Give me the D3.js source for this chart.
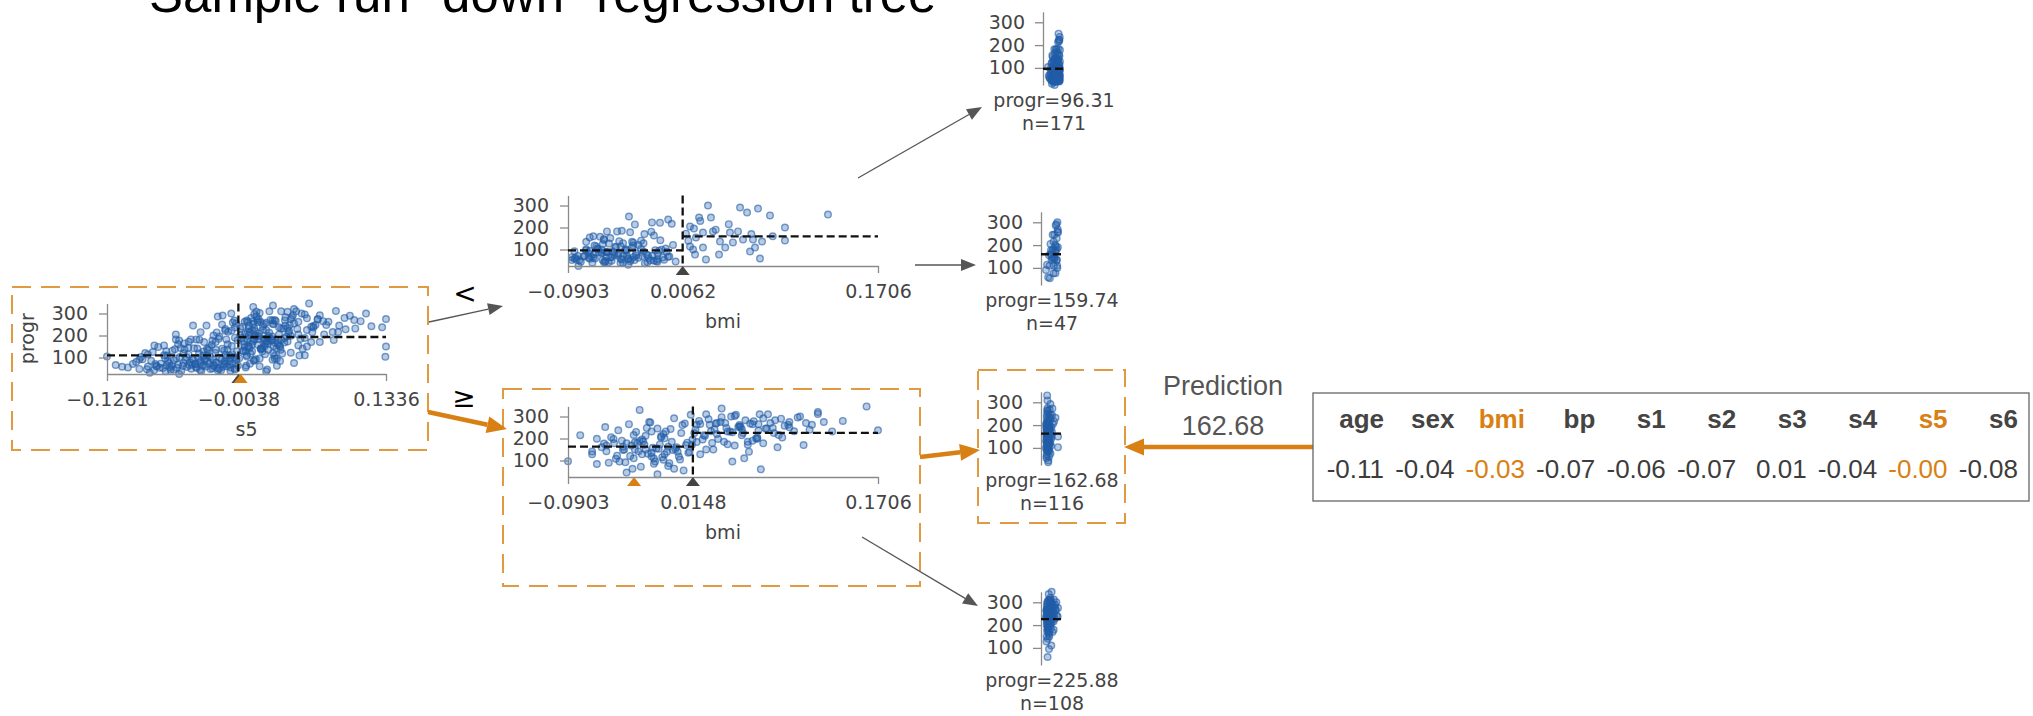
<!DOCTYPE html>
<html lang="en">
<head>
<meta charset="UTF-8"/>
<title>Sample run "down" regression tree</title>
<script src="https://d3js.org/d3.v7.min.js"></script>
<style>
	body { margin: 0; background-color: #FFFFFF; }
	#chart svg { display: block; }
</style>
</head>
<body>
<div id="chart"></div>
<script>
	// ---- data ----
	var features = ["age", "sex", "bmi", "bp", "s1", "s2", "s3", "s4", "s5", "s6"];
	var instanceValues = ["-0.11", "-0.04", "-0.03", "-0.07", "-0.06", "-0.07", "0.01", "-0.04", "-0.00", "-0.08"];
	var pathFeatures = ["bmi", "s5"];

	var s5Range = [-0.1261, 0.1336];
	var bmiRange = [-0.0903, 0.1706];
	var progrRange = [25, 346];
	var yTicks = [100, 200, 300];

	var s5Split = -0.0038;
	var bmiSplitLow = 0.0062;   // node reached when s5 < split
	var bmiSplitHigh = 0.0148;  // node reached when s5 >= split
	var rootMeans = [110.0, 193.2];
	var leafMeans = [96.31, 159.74, 162.68, 225.88];
	var leafCounts = [171, 47, 116, 108];
	var instanceS5 = -0.0017;
	var instanceBmi = -0.0347;
	var prediction = 162.68;

	// points: [s5, bmi, progr], one array per leaf
	var leafA = [
		[-0.1261,-0.0655,104],[-0.1066,-0.0450,55],[-0.1020,-0.0762,71],[-0.0960,-0.0590,48],
		[-0.0930,-0.0849,92],[-0.0905,-0.0310,120],[-0.0880,-0.0676,59],[-0.0850,-0.0514,85],
		[-0.0823,-0.0234,42],[-0.0800,-0.0730,63],[-0.0784,-0.0601,148],[-0.0760,-0.0407,72],
		[-0.0741,-0.0870,52],[-0.0720,-0.0169,97],[-0.0705,-0.0547,65],[-0.0683,-0.0515,75],
		[-0.0670,-0.0795,44],[-0.0652,-0.0353,131],[-0.0640,-0.0622,88],[-0.0629,-0.0472,138],
		[-0.0611,-0.0094,53],[-0.0598,-0.0708,68],[-0.0583,-0.0288,102],[-0.0570,-0.0461,39],
		[-0.0556,-0.0838,61],[-0.0541,-0.0180,164],[-0.0530,-0.0579,90],[-0.0515,-0.0396,57],
		[-0.0502,-0.0665,114],[-0.0490,-0.0245,78],[-0.0477,-0.0536,49],[-0.0465,-0.0752,96],
		[-0.0451,-0.0126,142],[-0.0440,-0.0439,70],[-0.0428,-0.0612,52],[-0.0412,-0.0407,97],
		[-0.0401,-0.0202,181],[-0.0390,-0.0730,84],[-0.0377,-0.0310,63],[-0.0364,-0.0558,127],
		[-0.0352,-0.0073,90],[-0.0340,-0.0849,59],[-0.0331,-0.0364,109],[-0.0320,-0.0364,135],
		[-0.0309,-0.0482,72],[-0.0298,-0.0159,48],[-0.0286,-0.0633,158],[-0.0275,-0.0267,91],
		[-0.0264,-0.0536,65],[-0.0253,-0.0019,121],[-0.0242,-0.0687,77],[-0.0231,-0.0342,52],
		[-0.0220,-0.0450,185],[-0.0210,-0.0116,99],[-0.0199,-0.0601,42],[-0.0188,-0.0288,140],
		[-0.0177,-0.0773,68],[-0.0166,-0.0148,81],[-0.0155,-0.0504,113],[-0.0144,-0.0224,60],
		[-0.0133,-0.0030,217],[-0.0122,-0.0644,87],[-0.0111,-0.0374,55],[-0.0100,-0.0547,152],
		[-0.0090,-0.0191,72],[-0.0080,-0.0418,101],[-0.0070,0.0003,45],[-0.0060,-0.0579,89],
		[-0.0050,-0.0267,128],[-0.0042,-0.0105,64],[-0.0862,-0.0396,31],[-0.0715,-0.0256,37],
		[-0.0589,-0.0815,25],[-0.0468,-0.0062,67],[-0.0395,-0.0590,43],[-0.0280,-0.0806,51],
		[-0.0180,-0.0461,58],[-0.0112,-0.0698,40],[-0.0550,-0.0353,118],[-0.0345,-0.0137,94],
		[-0.0190,-0.0390,250],[-0.0240,-0.0340,214],[-0.0100,-0.0196,223],[-0.0160,-0.0129,222],
		[-0.0070,-0.0060,236],[-0.0620,-0.0575,182],[-0.0480,-0.0490,182],[-0.0820,-0.0720,155],
		[-0.1180,-0.0580,66],[-0.1120,-0.0720,58],[-0.0990,-0.0480,80],[-0.0945,-0.0650,102],
		[-0.0890,-0.0380,47],[-0.0835,-0.0610,125],[-0.0812,-0.0280,70],[-0.0772,-0.0830,53],
		[-0.0730,-0.0500,110],[-0.0695,-0.0330,84],[-0.0660,-0.0690,62],[-0.0618,-0.0420,96],
		[-0.0575,-0.0600,143],[-0.0548,-0.0230,74],[-0.0520,-0.0750,101],[-0.0496,-0.0350,66],
		[-0.0458,-0.0580,88],[-0.0433,-0.0150,57],[-0.0405,-0.0680,118],[-0.0383,-0.0440,39],
		[-0.0357,-0.0260,170],[-0.0326,-0.0620,83],[-0.0302,-0.0080,104],[-0.0270,-0.0400,61],
		[-0.0247,-0.0750,135],[-0.0216,-0.0180,49],[-0.0193,-0.0530,92],[-0.0162,-0.0330,73],
		[-0.0138,-0.0690,160],[-0.0117,-0.0050,68],[-0.0095,-0.0460,115],[-0.0076,-0.0210,51],
		[-0.0055,-0.0720,94],[-0.0046,-0.0380,178],[-0.0640,-0.0150,44],[-0.0440,-0.0820,71],
		[-0.0230,-0.0560,42],[-0.0360,-0.0870,65],[-0.0150,-0.0620,99],[-0.0710,-0.0440,129]
	];
	var leafB = [
		[-0.0620,0.0124,205],[-0.0215,0.0157,195],[-0.0335,0.0200,245],[-0.0104,0.0275,300],
		[-0.0460,0.0300,245],[-0.0730,0.0174,155],[-0.0280,0.0233,177],[-0.0150,0.0317,182],
		[-0.0540,0.0376,136],[-0.0880,0.0124,114],[-0.0395,0.0166,77],[-0.0675,0.0258,55],
		[-0.0250,0.0368,77],[-0.0120,0.0420,109],[-0.0590,0.0460,177],[-0.0185,0.0545,291],
		[-0.0430,0.0528,182],[-0.0075,0.0604,268],[-0.0310,0.0570,145],[-0.0230,0.0696,286],
		[-0.0505,0.0654,145],[-0.0960,0.0629,91],[-0.0365,0.0671,109],[-0.0800,0.0713,59],
		[-0.0140,0.0730,136],[-0.0060,0.0797,255],[-0.0270,0.0923,200],[-0.0420,0.0923,141],
		[-0.0090,0.1285,259],[-0.0700,0.0233,109],[-0.0170,0.0485,132],
		[-0.0500,0.0090,172],[-0.0330,0.0110,140],[-0.0160,0.0210,230],[-0.0070,0.0340,190],
		[-0.0250,0.0640,170],[-0.0600,0.0820,160],[-0.0110,0.0150,100],[-0.0390,0.0450,215]
	];
	var leafC = [
		[-0.0030,-0.0903,97],[0.0050,-0.0800,215],[0.0120,-0.0660,199],[0.0200,-0.0590,252],
		[0.0350,-0.0660,84],[0.0015,-0.0620,160],[0.0280,-0.0560,90],[0.0080,-0.0515,178],
		[0.0450,-0.0490,122],[0.0160,-0.0470,95],[-0.0010,-0.0450,190],[0.0600,-0.0430,150],
		[0.0230,-0.0410,45],[0.0100,-0.0390,265],[0.0330,-0.0370,168],[0.0040,-0.0350,110],
		[0.0510,-0.0330,230],[0.0180,-0.0310,142],[0.0070,-0.0290,72],[0.0390,-0.0270,187],
		[0.0250,-0.0250,212],[0.0000,-0.0230,131],[0.0700,-0.0210,273],[0.0140,-0.0190,158],
		[0.0300,-0.0170,96],[0.0060,-0.0150,245],[0.0420,-0.0130,173],[0.0210,-0.0110,115],
		[-0.0020,-0.0090,201],[0.0560,-0.0070,140],[0.0110,-0.0050,88],[0.0270,-0.0030,185],
		[0.0470,-0.0010,292],[0.0090,0.0010,160],[0.0370,0.0030,118],[0.0190,0.0050,225],
		[0.0030,0.0070,55],[0.0640,0.0090,170],[0.0240,0.0110,135],[0.0130,0.0130,308],
		[0.0410,0.0145,195],[0.0020,-0.0440,148],[0.0320,-0.0360,62],[0.0150,-0.0220,275],
		[0.0530,-0.0180,109],[0.0060,-0.0080,232],[0.0290,0.0000,152],[0.0200,-0.0600,177],
		[0.0090,-0.0280,128],[0.0760,-0.0120,205],[0.0040,0.0040,104],[0.0340,-0.0480,237],
		[0.0110,-0.0340,183],[0.0480,-0.0060,75],[0.0170,0.0120,139],[0.0100,-0.0300,330],
		[0.0220,-0.0150,37],[0.1336,-0.0250,150],[0.1330,-0.0100,103],
		[0.0010,-0.0700,128],[0.0065,-0.0580,142],[0.0135,-0.0520,198],[0.0210,-0.0440,163],
		[0.0285,-0.0380,121],[0.0360,-0.0320,180],[0.0440,-0.0240,248],[0.0520,-0.0160,155],
		[0.0015,-0.0260,172],[0.0075,-0.0200,118],[0.0155,-0.0120,210],[0.0235,-0.0060,162],
		[0.0315,0.0020,140],[0.0395,0.0080,268],[0.0045,0.0100,181],[0.0125,-0.0420,92],
		[0.0205,-0.0340,150],[0.0275,-0.0280,196],[0.0355,-0.0200,135],[0.0435,-0.0100,220],
		[0.0060,-0.0020,148],[0.0140,0.0060,261],[0.0220,0.0140,172],[0.0300,-0.0500,108],
		[0.0580,-0.0300,189],[0.0660,-0.0040,243],[0.0025,-0.0540,206],[0.0105,-0.0180,85],
		[0.0185,-0.0090,128],[0.0265,-0.0410,178],[0.0345,-0.0140,154],[0.0890,-0.0350,216],
		[0.1050,-0.0200,232],[0.0035,-0.0010,63],[0.0170,-0.0700,141],[0.0390,-0.0580,168]
	];
	var leafD = [
		[0.0000,0.0170,240],[0.0080,0.0200,280],[0.0150,0.0230,196],[0.0250,0.0260,310],
		[0.0050,0.0290,262],[0.0350,0.0320,150],[0.0120,0.0350,220],[0.0450,0.0380,275],
		[0.0200,0.0410,185],[-0.0020,0.0440,232],[0.0550,0.0470,300],[0.0300,0.0500,168],
		[0.0100,0.0530,252],[0.0650,0.0560,215],[0.0400,0.0590,283],[0.0180,0.0620,140],
		[0.0750,0.0650,265],[0.0060,0.0680,200],[0.0500,0.0710,310],[0.0280,0.0740,178],
		[0.0900,0.0770,245],[0.0140,0.0800,270],[0.0600,0.0830,225],[0.0330,0.0860,160],
		[0.1000,0.0890,290],[0.0220,0.0920,258],[0.0700,0.0960,275],[0.0420,0.1000,233],
		[0.1150,0.1050,300],[0.0260,0.1100,270],[0.0800,0.1150,262],[0.0480,0.1200,320],
		[0.1336,0.1250,275],[0.0380,0.1320,232],[0.0950,0.1410,280],[0.0620,0.1610,346],
		[0.1300,0.1706,237],[0.0030,0.0210,128],[0.0320,0.0480,95],[0.0580,0.0580,110],
		[0.0160,0.0720,60],[0.0850,0.0310,180],[0.0430,0.0250,212],[0.0110,0.0390,297],
		[0.0680,0.0430,248],[0.0240,0.0650,190],[0.0520,0.0900,205],[0.0090,0.0160,225],
		[0.1200,0.0560,242],[0.0360,0.0780,310],[0.0720,0.1080,170],[0.0040,0.0340,268],
		[0.0280,0.0550,253],[0.1100,0.0700,265],[0.0284,0.0390,336],
		[0.0020,0.0180,262],[0.0070,0.0240,215],[0.0130,0.0280,288],[0.0190,0.0330,242],
		[0.0240,0.0360,198],[0.0300,0.0420,270],[0.0360,0.0460,232],[0.0420,0.0510,308],
		[0.0480,0.0540,255],[0.0540,0.0610,185],[0.0600,0.0660,278],[0.0660,0.0700,236],
		[0.0720,0.0740,292],[0.0780,0.0820,248],[0.0840,0.0870,216],[0.0100,0.0440,174],
		[0.0160,0.0500,302],[0.0220,0.0570,225],[0.0280,0.0630,268],[0.0340,0.0690,205],
		[0.0400,0.0760,245],[0.0460,0.0840,283],[0.0520,0.0950,262],[0.0580,0.1030,296],
		[0.0640,0.1130,240],[0.0050,0.0260,150],[0.0110,0.0300,233],[0.0170,0.0540,261],
		[0.0230,0.0610,172],[0.0290,0.0960,251],[0.0960,0.0480,228],[0.1040,0.0350,270],
		[0.0870,0.1200,312],[0.0150,0.0180,184],[0.0310,0.0210,266],[0.0450,0.0690,199]
	];

	// ---- look ----
	var w = 2033, h = 716;
	var ptColor = "#225ea8";
	var axisColor = "#8a8a8a";
	var textColor = "#444444";
	var boxColor = "#e09a42";
	var orange = "#d98014";
	var grayArrow = "#555555";
	var tickFont = "'DejaVu Sans', sans-serif";
	var plainFont = "'Liberation Sans', Arial, sans-serif";
	var nodeH = 70.6;
	var leafH = 73.2;

	var svg = d3.select("#chart")
		.append("svg")
		.attr("width", w)
		.attr("height", h);

	function styleAxis(g) {
		g.attr("font-size", null).attr("font-family", null);
		g.select(".domain").attr("stroke", axisColor).attr("stroke-width", 1.3);
		g.selectAll(".tick line").attr("stroke", axisColor).attr("stroke-width", 1.3);
		g.selectAll(".tick text")
			.attr("fill", textColor)
			.attr("font-size", 19)
			.attr("font-family", tickFont);
	}

	function drawPoints(g, pts, fx, fy) {
		g.selectAll("circle.pt")
			.data(pts)
			.enter()
			.append("circle")
			.attr("class", "pt")
			.attr("cx", fx)
			.attr("cy", fy)
			.attr("r", 3.3)
			.attr("fill", ptColor)
			.attr("fill-opacity", 0.32)
			.attr("stroke", ptColor)
			.attr("stroke-opacity", 0.6)
			.attr("stroke-width", 1.4);
	}

	function dashed(g, x1, y1, x2, y2) {
		g.append("line")
			.attr("x1", x1).attr("y1", y1).attr("x2", x2).attr("y2", y2)
			.attr("stroke", "#111")
			.attr("stroke-width", 2.3)
			.attr("stroke-dasharray", "8,4");
	}

	function marker(g, xpos, ybase, color) {
		g.append("path")
			.attr("d", "M" + xpos + "," + ybase + "l-7,9h14z")
			.attr("fill", color);
	}

	// decision node scatter: cfg.xi = column of the feature in the point
	function drawNode(cfg) {
		var g = svg.append("g");
		var x = d3.scaleLinear().domain(cfg.xDomain).range([cfg.x0, cfg.x1]);
		var y = d3.scaleLinear().domain(progrRange).range([cfg.yBottom, cfg.yBottom - nodeH]);

		drawPoints(g, cfg.points, function(d) { return x(d[cfg.xi]); }, function(d) { return y(d[2]); });

		var xAxis = d3.axisBottom(x)
			.tickValues([cfg.xDomain[0], cfg.split, cfg.xDomain[1]])
			.tickFormat(d3.format(".4f"))
			.tickSize(7).tickPadding(12).tickSizeOuter(0);
		var yAxis = d3.axisLeft(y)
			.tickValues(yTicks)
			.tickSize(8).tickPadding(11).tickSizeOuter(0);

		g.append("g").attr("transform", "translate(0," + cfg.yBottom + ")").call(xAxis).call(styleAxis);
		g.append("g").attr("transform", "translate(" + cfg.x0 + ",0)").call(yAxis).call(styleAxis);

		// split and the two means
		dashed(g, x(cfg.split), y(progrRange[1]), x(cfg.split), cfg.yBottom);
		dashed(g, cfg.x0, y(cfg.means[0]), x(cfg.split), y(cfg.means[0]));
		dashed(g, x(cfg.split), y(cfg.means[1]), cfg.x1, y(cfg.means[1]));

		marker(g, x(cfg.split), cfg.yBottom, "#444");
		if (cfg.instance !== undefined) marker(g, x(cfg.instance), cfg.yBottom, orange);

		g.append("text")
			.attr("x", (cfg.x0 + cfg.x1) / 2)
			.attr("y", cfg.yBottom + 62)
			.attr("text-anchor", "middle")
			.attr("font-family", tickFont)
			.attr("font-size", 19)
			.attr("fill", textColor)
			.text(cfg.xLabel);

		if (cfg.yLabel) {
			g.append("text")
				.attr("transform", "translate(" + (cfg.x0 - 73) + "," + (cfg.yBottom - nodeH / 2) + ") rotate(-90)")
				.attr("text-anchor", "middle")
				.attr("font-family", tickFont)
				.attr("font-size", 19)
				.attr("fill", textColor)
				.text(cfg.yLabel);
		}
	}

	function drawLeaf(cfg) {
		var g = svg.append("g");
		var y = d3.scaleLinear().domain(progrRange).range([cfg.yBottom, cfg.yBottom - leafH]);
		var xj = d3.scaleLinear()
			.domain(d3.extent(cfg.points, function(d) { return d[0]; }))
			.range([cfg.axisX + 5, cfg.axisX + 17]);

		drawPoints(g, cfg.points, function(d) { return xj(d[0]); }, function(d) { return y(d[2]); });

		g.append("g")
			.attr("transform", "translate(" + cfg.axisX + ",0)")
			.call(d3.axisLeft(y).tickValues(yTicks).tickSize(8).tickPadding(10).tickSizeOuter(0))
			.call(styleAxis);

		dashed(g, cfg.axisX, y(cfg.mean), cfg.axisX + 22, y(cfg.mean));

		g.append("text")
			.attr("x", cfg.axisX + 11).attr("y", cfg.yBottom + 22)
			.attr("text-anchor", "middle")
			.attr("font-family", tickFont).attr("font-size", 19).attr("fill", textColor)
			.text("progr=" + cfg.mean.toFixed(2));
		g.append("text")
			.attr("x", cfg.axisX + 11).attr("y", cfg.yBottom + 45)
			.attr("text-anchor", "middle")
			.attr("font-family", tickFont).attr("font-size", 19).attr("fill", textColor)
			.text("n=" + cfg.n);
	}

	function arrow(x1, y1, x2, y2, color, width, headLen, headHalf) {
		var a = Math.atan2(y2 - y1, x2 - x1);
		var bx = x2 - headLen * Math.cos(a), by = y2 - headLen * Math.sin(a);
		svg.append("line")
			.attr("x1", x1).attr("y1", y1).attr("x2", bx).attr("y2", by)
			.attr("stroke", color).attr("stroke-width", width);
		var head = [[x2, y2],
			[bx - headHalf * Math.sin(a), by + headHalf * Math.cos(a)],
			[bx + headHalf * Math.sin(a), by - headHalf * Math.cos(a)]];
		svg.append("path").attr("d", d3.line()(head) + "Z").attr("fill", color);
	}

	function box(x, y, bw, bh) {
		svg.append("rect")
			.attr("x", x).attr("y", y).attr("width", bw).attr("height", bh)
			.attr("fill", "none")
			.attr("stroke", boxColor)
			.attr("stroke-width", 2)
			.attr("stroke-dasharray", "19,10");
	}

	// title (cut at the top of the slide)
	svg.append("text")
		.attr("x", 149).attr("y", 12)
		.attr("font-family", plainFont)
		.attr("font-size", 51)
		.attr("fill", "#000")
		.text('Sample run "down" regression tree');

	// highlighted path boxes
	box(12, 287, 416, 163);
	box(503, 389, 417, 197);
	box(978, 370, 147, 153);

	var lowSide = leafA.concat(leafB);
	var highSide = leafC.concat(leafD);

	drawNode({ x0: 107, x1: 386, yBottom: 374, xDomain: s5Range, xi: 0, split: s5Split,
		points: lowSide.concat(highSide), means: rootMeans, instance: instanceS5,
		xLabel: "s5", yLabel: "progr" });
	drawNode({ x0: 568, x1: 878, yBottom: 266, xDomain: bmiRange, xi: 1, split: bmiSplitLow,
		points: lowSide, means: [leafMeans[0], leafMeans[1]], xLabel: "bmi" });
	drawNode({ x0: 568, x1: 878, yBottom: 477, xDomain: bmiRange, xi: 1, split: bmiSplitHigh,
		points: highSide, means: [leafMeans[2], leafMeans[3]], instance: instanceBmi, xLabel: "bmi" });

	drawLeaf({ axisX: 1043, yBottom: 85, points: leafA, mean: leafMeans[0], n: leafCounts[0] });
	drawLeaf({ axisX: 1041, yBottom: 285, points: leafB, mean: leafMeans[1], n: leafCounts[1] });
	drawLeaf({ axisX: 1041, yBottom: 465, points: leafC, mean: leafMeans[2], n: leafCounts[2] });
	drawLeaf({ axisX: 1041, yBottom: 665, points: leafD, mean: leafMeans[3], n: leafCounts[3] });

	// edge labels
	svg.append("text").attr("x", 465).attr("y", 303).attr("text-anchor", "middle")
		.attr("font-family", tickFont).attr("font-size", 28).attr("fill", "#000").text("<");
	svg.append("text").attr("x", 464).attr("y", 407).attr("text-anchor", "middle")
		.attr("font-family", tickFont).attr("font-size", 28).attr("fill", "#000").text("\u2265");

	// edges
	arrow(429, 322, 503, 306, grayArrow, 1.3, 15, 6);
	arrow(858, 178, 982, 107, grayArrow, 1.3, 15, 6);
	arrow(915, 265, 976, 265, grayArrow, 1.3, 15, 6);
	arrow(862, 537, 978, 606, grayArrow, 1.3, 15, 6);
	arrow(428, 412, 507, 429, orange, 4.5, 20, 8.5);
	arrow(920, 457, 980, 450, orange, 4.5, 20, 8.5);
	arrow(1313, 447, 1124, 447, orange, 4.5, 20, 8.5);

	// prediction
	svg.append("text").attr("x", 1223).attr("y", 395).attr("text-anchor", "middle")
		.attr("font-family", plainFont).attr("font-size", 27).attr("fill", "#555").text("Prediction");
	svg.append("text").attr("x", 1223).attr("y", 435).attr("text-anchor", "middle")
		.attr("font-family", plainFont).attr("font-size", 27).attr("fill", "#555").text(prediction.toFixed(2));

	// instance table
	svg.append("rect")
		.attr("x", 1313).attr("y", 393).attr("width", 716).attr("height", 108)
		.attr("fill", "#fff").attr("stroke", "#666").attr("stroke-width", 1.3);

	var colX = d3.scalePoint().domain(features).range([1384, 2018]);

	svg.selectAll("text.head")
		.data(features)
		.enter()
		.append("text")
		.attr("class", "head")
		.attr("x", function(d) { return colX(d); })
		.attr("y", 428)
		.attr("text-anchor", "end")
		.attr("font-family", plainFont)
		.attr("font-weight", "bold")
		.attr("font-size", 26)
		.attr("fill", function(d) { return pathFeatures.indexOf(d) >= 0 ? orange : textColor; })
		.text(function(d) { return d; });

	svg.selectAll("text.val")
		.data(instanceValues)
		.enter()
		.append("text")
		.attr("class", "val")
		.attr("x", function(d, i) { return colX(features[i]); })
		.attr("y", 478)
		.attr("text-anchor", "end")
		.attr("font-family", plainFont)
		.attr("font-size", 26)
		.attr("fill", function(d, i) { return pathFeatures.indexOf(features[i]) >= 0 ? orange : "#3c3c3c"; })
		.text(function(d) { return d; });
</script>
</body>
</html>
